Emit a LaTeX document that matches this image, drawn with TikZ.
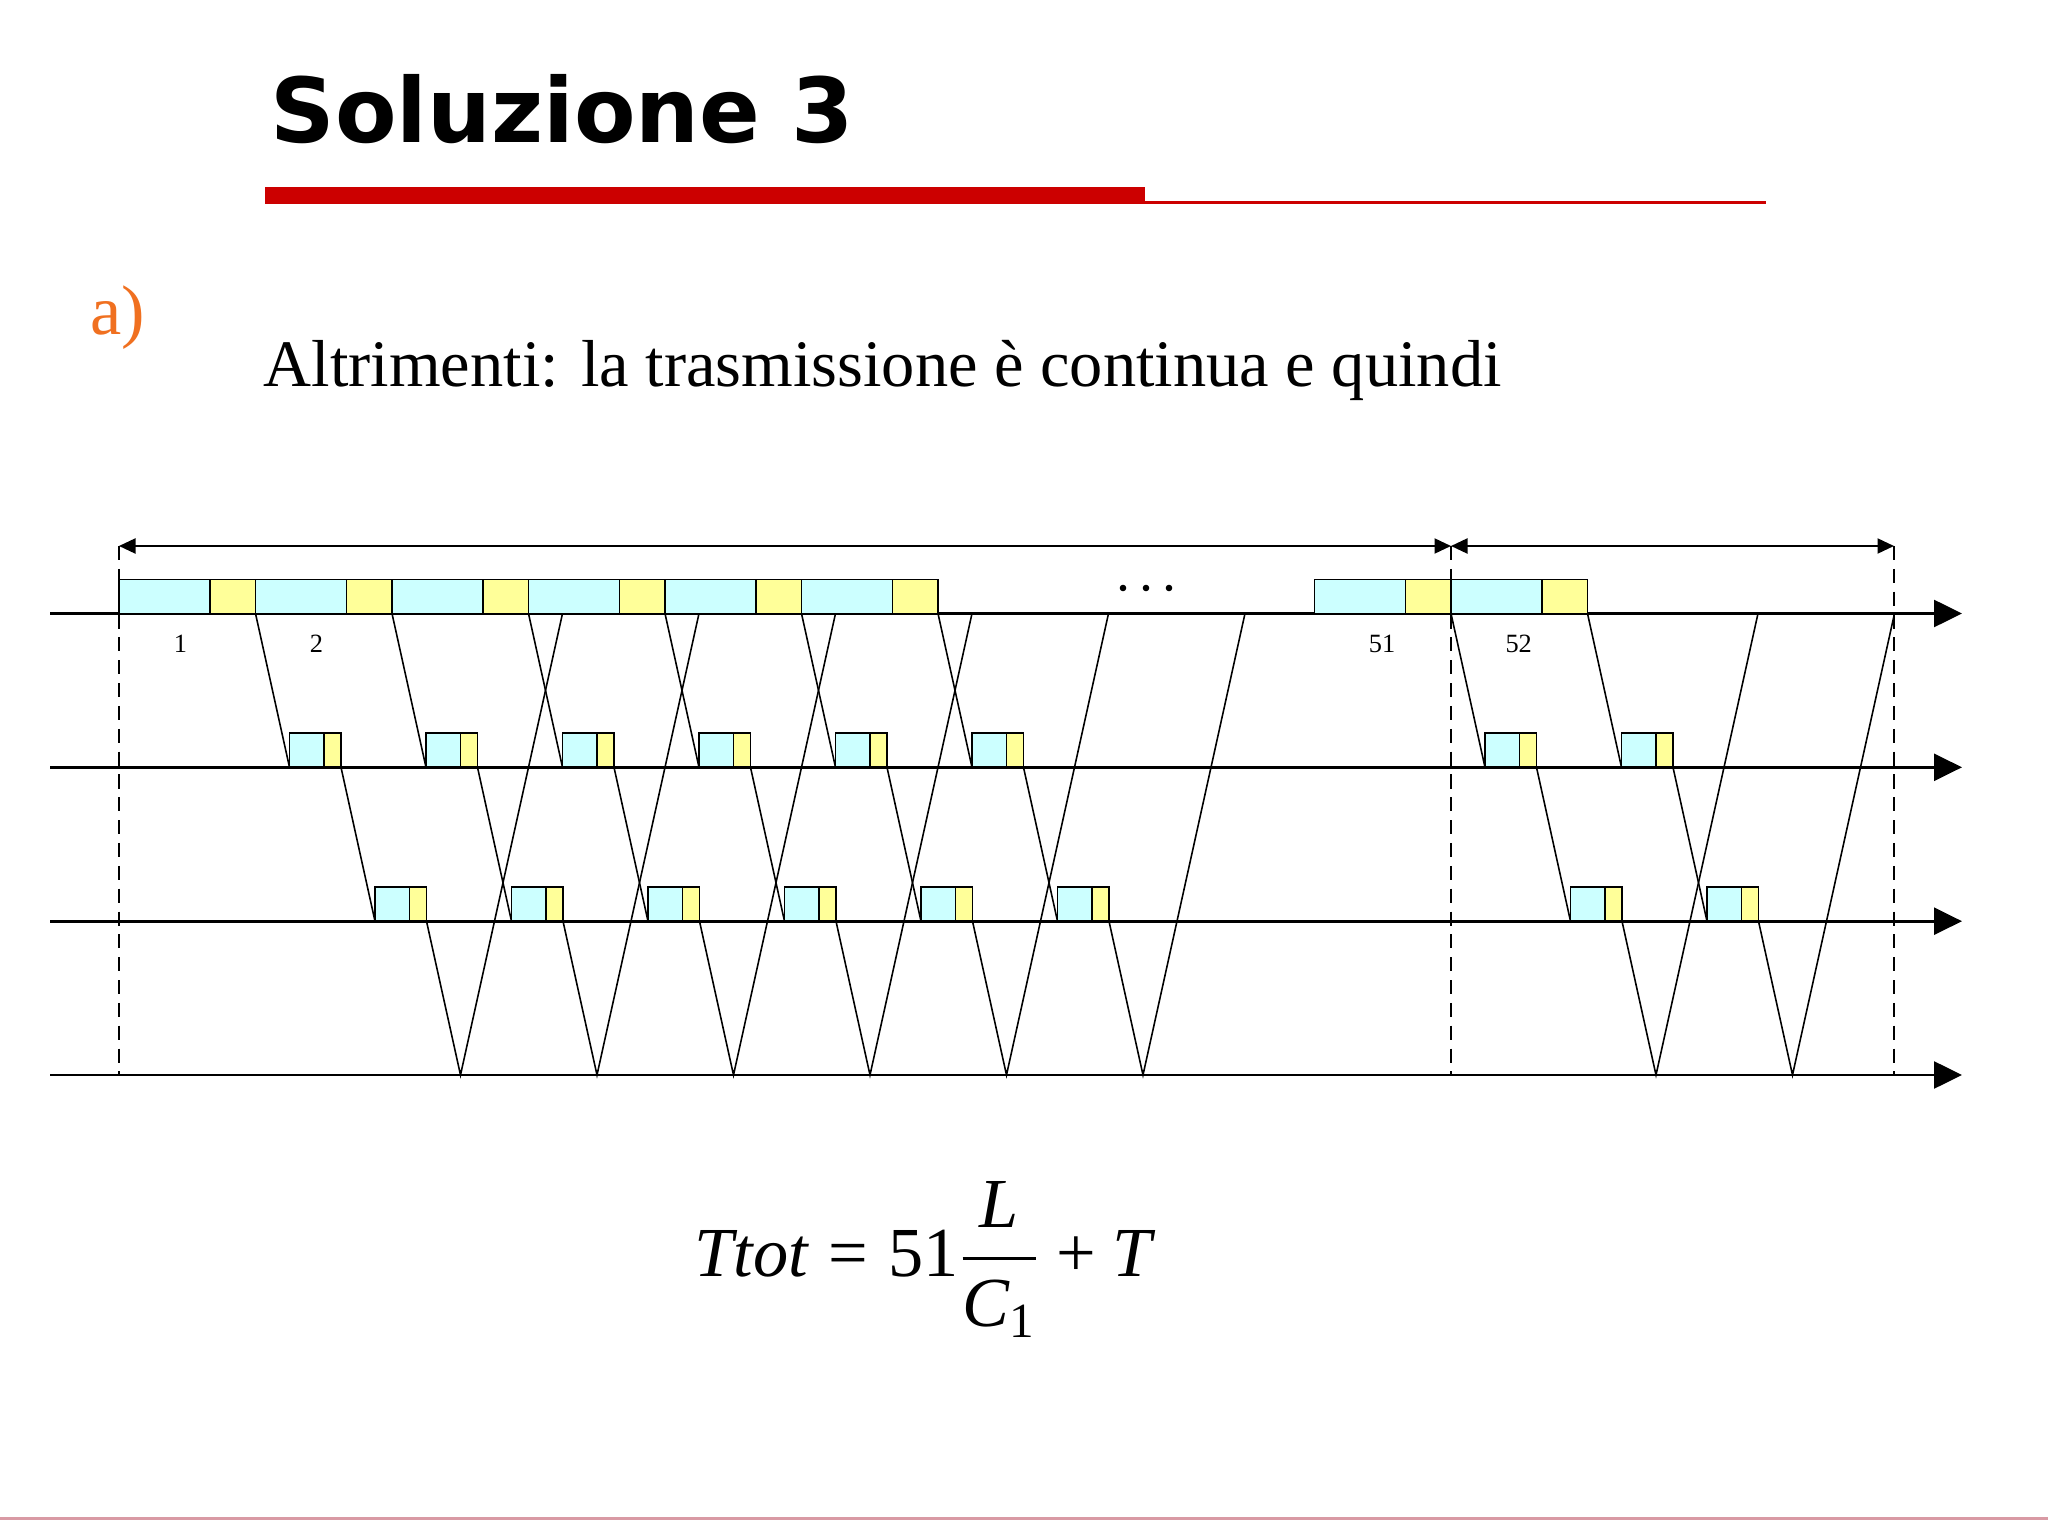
\documentclass[tikz,border=0pt]{standalone}
\usepackage{fontspec}
\usepackage{amsmath}
\setmainfont{Liberation Serif}
\newfontfamily\titlefont{DejaVu Sans}
\usetikzlibrary{arrows.meta,calc,positioning}
\definecolor{framecyan}{HTML}{CCFFFF}
\definecolor{frameyellow}{HTML}{FFFF99}
\definecolor{slidered}{HTML}{CC0000}
\definecolor{itemorange}{HTML}{F07020}
\definecolor{footerpink}{HTML}{D99AA4}

\begin{document}
\begin{tikzpicture}[
    bigdata/.style={rectangle, draw, fill=framecyan, line width=0.5pt, inner sep=0pt, outer sep=0pt, minimum width=0.91cm, minimum height=0.34cm, anchor=south west},
    bighead/.style={bigdata, fill=frameyellow, minimum width=0.455cm},
    smalldata/.style={bigdata, minimum width=0.345cm},
    smallhead/.style={bigdata, fill=frameyellow, minimum width=0.17cm},
    hopstyle/.style={line width=0.45pt},
    axisstyle/.style={line width=0.75pt, -{Triangle[length=0.28cm,width=0.27cm]}},
    spanstyle/.style={line width=0.6pt, {Triangle[length=0.165cm,width=0.15cm]}-{Triangle[length=0.165cm,width=0.15cm]}},
    markstyle/.style={line width=0.5pt, dash pattern=on 4pt off 2.5pt},
    numstyle/.style={font=\fontsize{7.5}{9}\selectfont, inner sep=0pt}
]
    \fill[white] (0,0) rectangle (20.48,-15.36);
    \useasboundingbox (0,0) rectangle (20.48,-15.36);

    % heading
    \node[anchor=base west, inner sep=0pt, font=\titlefont\bfseries\fontsize{25.5}{30}\selectfont] (title) at (2.70,-1.43) {Soluzione 3};
    \fill[slidered] (2.65,-1.873) rectangle (11.445,-2.04);
    \fill[slidered] (11.44,-2.01) rectangle (17.66,-2.04);

    \node[anchor=base west, inner sep=0pt, text=itemorange, font=\fontsize{20}{24}\selectfont] (item) at (0.895,-3.35) {a)};
    \node[anchor=base west, inner sep=0pt, font=\fontsize{18.9}{23}\selectfont] (intro) at (2.63,-3.87) {Altrimenti: la trasmissione è continua e quindi};

    % time axes
    \foreach \i/\y in {1/-6.135, 2/-7.673, 3/-9.212, 4/-10.75} {
        \coordinate (start\i) at (0.5,\y);
        \coordinate (end\i) at (19.62,\y);
        \draw[axisstyle] (start\i) -- (end\i);
    }

    % frames and hops
    \foreach \k/\s in {1/1.19, 2/2.555, 3/3.92, 4/5.285, 5/6.65, 6/8.015, 51/13.145, 52/14.51} {
        \node[bigdata] (d\k) at (\s,-6.135) {};
        \node[bighead] (h\k) at (d\k.south east) {};
        \node[smalldata] (a\k) at ($(h\k.south east)+(0.34,-1.538)$) {};
        \node[smallhead] (b\k) at (a\k.south east) {};
        \node[smalldata] (c\k) at ($(b\k.south east)+(0.34,-1.539)$) {};
        \node[smallhead] (e\k) at (c\k.south east) {};
        \coordinate (r\k) at ($(e\k.south east)+(0.34,-1.538)$);
        \coordinate (t\k) at ($(r\k)+(1.02,4.615)$);
        \draw[hopstyle] (h\k.south east) -- (a\k.south west);
        \draw[hopstyle] (b\k.south east) -- (c\k.south west);
        \draw[hopstyle] (e\k.south east) -- (r\k) -- (t\k);
    }

    \node[numstyle] (n1) at (1.805,-6.44) {1};
    \node[numstyle] (n2) at (3.165,-6.44) {2};
    \node[numstyle] (n51) at (13.82,-6.44) {51};
    \node[numstyle] (n52) at (15.187,-6.44) {52};
    \foreach \x in {11.23,11.46,11.69}
        \fill (\x,-5.88) circle (0.033);

    % spans
    \coordinate (m0) at (1.19,-5.46);
    \coordinate (m1) at (14.51,-5.46);
    \coordinate (m2) at (18.94,-5.46);
    \draw[spanstyle] (m0) -- (m1);
    \draw[spanstyle] (m1) -- (m2);
    \foreach \m in {m0,m1,m2}
        \draw[markstyle] (\m) -- (\m |- end4);

    \node[anchor=base west, inner sep=0pt, font=\fontsize{20}{24}\selectfont] (ttot) at (6.94,-12.767) {$\mathit{Ttot} \mathrel{\text{=}} \mathrm{51}\dfrac{\mathit{L}}{\mathit{C}_{\mathrm{1}}} \mathbin{\text{+}} \mathit{T}$};

    \draw[footerpink, line width=0.65pt] (0,-15.185) -- (20.48,-15.185);
\end{tikzpicture}
\end{document}
